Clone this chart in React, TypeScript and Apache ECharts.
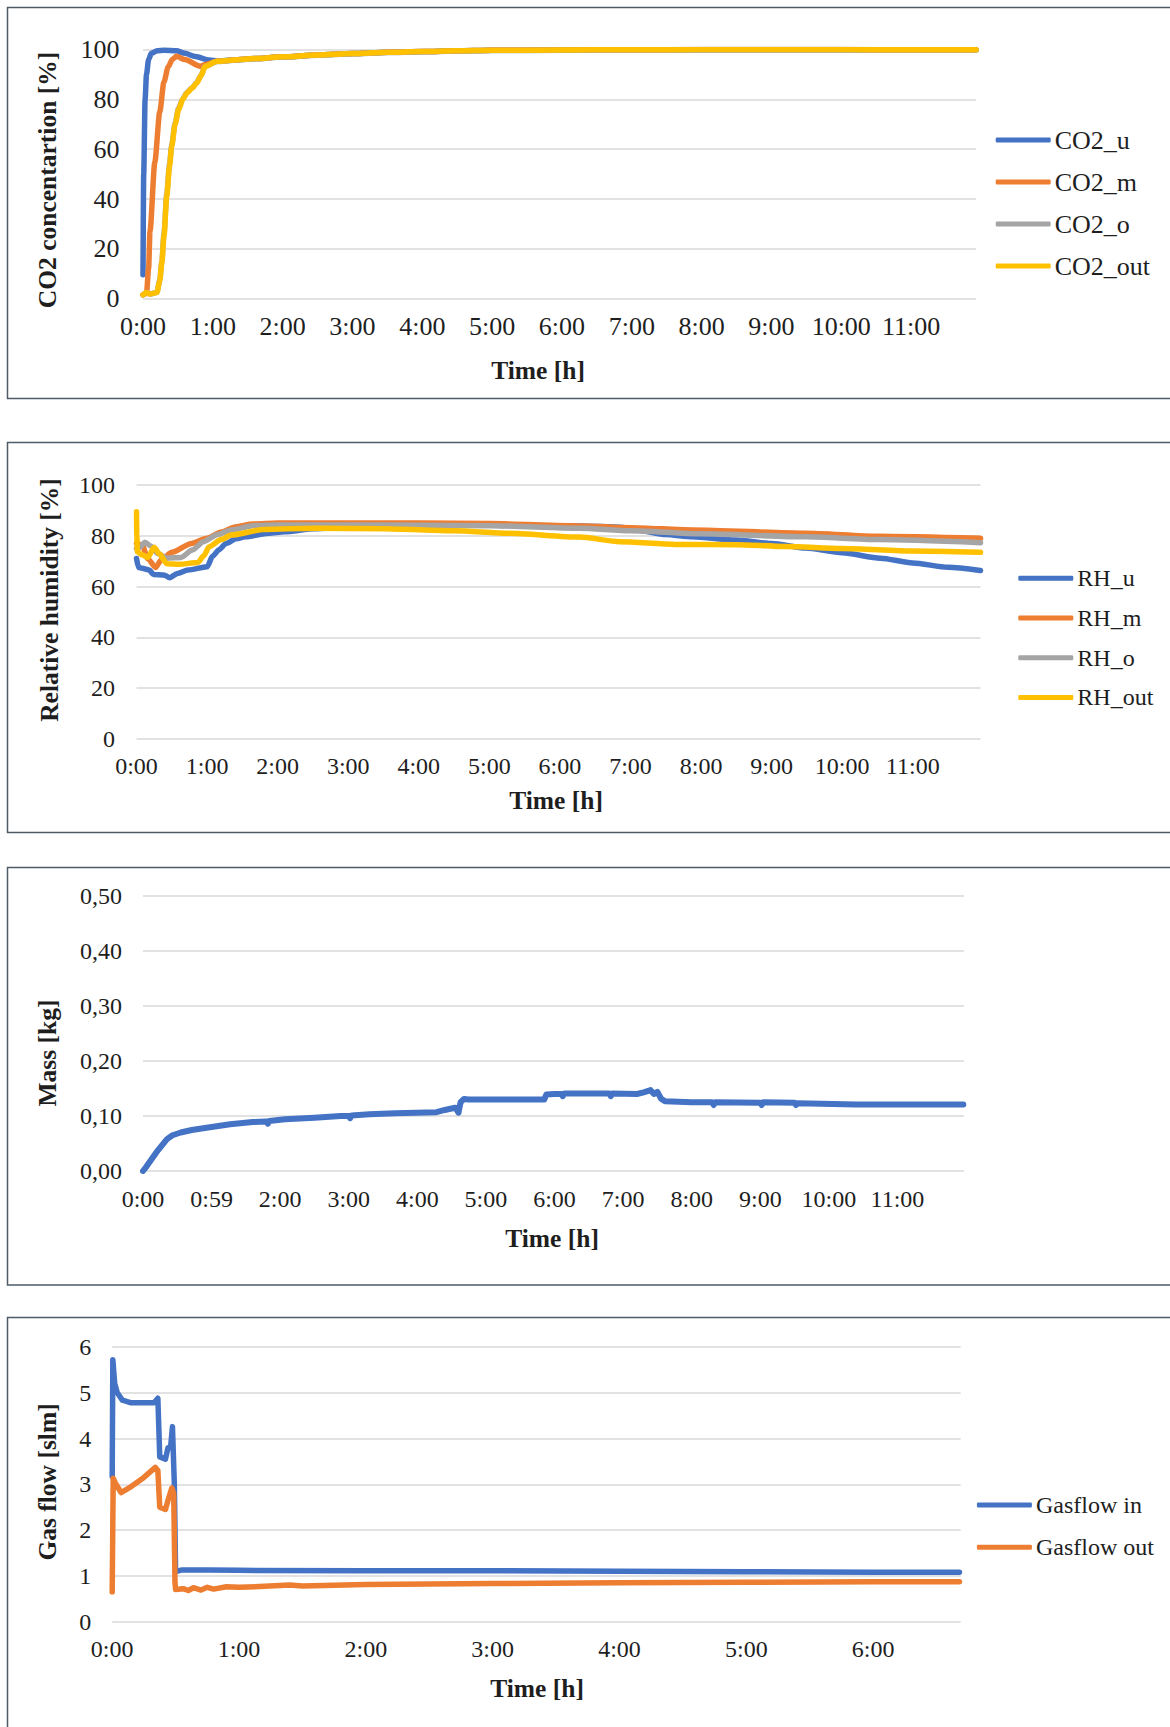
import { useEffect, useRef } from "react";
import * as echarts from "echarts";

// ---------- tick labels ----------
const HOUR_LABELS = ["0:00", "1:00", "2:00", "3:00", "4:00", "5:00", "6:00", "7:00", "8:00", "9:00", "10:00", "11:00"];
const MASS_HOUR_LABELS = ["0:00", "0:59", "2:00", "3:00", "4:00", "5:00", "6:00", "7:00", "8:00", "9:00", "10:00", "11:00"];
const GAS_HOUR_LABELS = ["0:00", "1:00", "2:00", "3:00", "4:00", "5:00", "6:00"];

// ---------- panel 1: CO2 concentration [%] (time in hours) ----------
const CO2_U = [
  [0, 9.6], [0.01, 50], [0.03, 80], [0.05, 90], [0.08, 96], [0.12, 98.5], [0.2, 99.5], [0.3, 99.7],
  [0.48, 99.5], [0.6, 98.5], [0.75, 97.2], [0.95, 95.8], [1.06, 95.4], [1.3, 95.9], [1.6, 96.4], [2, 97.1],
  [2.5, 97.8], [3, 98.4], [3.5, 98.9], [4, 99.2], [4.5, 99.5], [5, 99.7], [6, 99.85], [7, 99.95], [8, 100],
  [9, 100], [10, 100], [11, 99.95], [11.93, 99.95],
];
const CO2_M = [
  [0, 1.5], [0.05, 2], [0.08, 12], [0.1, 27], [0.17, 55], [0.24, 75], [0.3, 87], [0.36, 93], [0.42, 96],
  [0.48, 97.3], [0.6, 96], [0.82, 93.3], [0.9, 94], [1.06, 95.3], [1.3, 95.8], [1.6, 96.4], [2, 97.1],
  [2.5, 97.8], [3, 98.4], [3.5, 98.9], [4, 99.2], [4.5, 99.5], [5, 99.7], [6, 99.85], [7, 99.95], [8, 100],
  [9, 100], [10, 100], [11, 99.9], [11.93, 99.9],
];
const CO2_O = [
  [0, 1.5], [0.05, 2.4], [0.1, 1.8], [0.2, 2.6], [0.24, 7.5], [0.27, 15], [0.3, 26], [0.34, 42], [0.38, 54],
  [0.41, 61.5], [0.46, 70.5], [0.51, 76.5], [0.57, 80.3], [0.63, 82.8], [0.7, 84.6], [0.77, 86.8], [0.83, 89.6],
  [0.89, 93.3], [1.06, 95.2], [1.3, 95.7], [1.6, 96.3], [2, 97], [2.5, 97.7], [3, 98.3], [3.5, 98.8], [4, 99.1],
  [4.5, 99.4], [5, 99.6], [6, 99.7], [7, 99.75], [8, 99.8], [9, 99.8], [10, 99.85], [11, 99.85], [11.93, 99.85],
];
const CO2_OUT = [
  [0, 1.5], [0.05, 2.5], [0.1, 1.8], [0.2, 2.5], [0.24, 7], [0.27, 14.5], [0.3, 25], [0.34, 41], [0.38, 53],
  [0.41, 61], [0.46, 70], [0.51, 76], [0.57, 80], [0.63, 82.6], [0.7, 84.5], [0.77, 86.6], [0.83, 89.5],
  [0.89, 93.3], [1.06, 95.3], [1.3, 95.8], [1.6, 96.4], [2, 97.1], [2.5, 97.8], [3, 98.4], [3.5, 98.9], [4, 99.2],
  [4.5, 99.5], [5, 99.7], [6, 99.85], [7, 99.95], [8, 100], [9, 100], [10, 100], [11, 99.95], [11.93, 99.95],
];

// ---------- panel 2: relative humidity [%] ----------
const RH_U = [
  [0, 71.1], [0.03, 67.5], [0.08, 67.2], [0.18, 66.5], [0.24, 64.8], [0.4, 64.5], [0.47, 63.5], [0.58, 65.2],
  [0.73, 66.5], [1.0, 67.8], [1.08, 72], [1.17, 74.5], [1.27, 77], [1.41, 78.8], [1.54, 79.6], [1.87, 81],
  [2.1, 81.6], [2.52, 82.8], [3, 83.4], [4, 83.9], [4.65, 84.4], [5.5, 84], [6.3, 83.9], [6.85, 83.4],
  [7.08, 82.3], [7.5, 80.5], [7.88, 79.6], [8.5, 78.3], [9, 77], [9.48, 75.2], [10, 73.3], [10.54, 71.2],
  [11, 69.3], [11.5, 67.6], [11.96, 66.3],
];
const RH_M = [
  [0, 77], [0.08, 76.4], [0.16, 71], [0.27, 67.5], [0.35, 70.5], [0.5, 73.5], [0.78, 77], [1.0, 79],
  [1.2, 81.5], [1.4, 83.5], [1.65, 84.6], [2, 85], [3, 85], [4, 85], [5, 84.8], [6.28, 83.9], [7, 83.2],
  [7.88, 82.3], [9.48, 81], [10.5, 79.8], [11.96, 79],
];
const RH_O = [
  [0, 75], [0.05, 75.5], [0.12, 77.5], [0.2, 76], [0.3, 73], [0.43, 71.2], [0.63, 71.5], [0.79, 74.4],
  [0.95, 77.7], [1.15, 80.5], [1.34, 82.3], [1.65, 84], [2, 84.3], [3, 84.3], [4, 84.2], [5, 84], [6.28, 83],
  [7, 82], [8, 80.8], [9.48, 79.6], [10.5, 78.5], [11.96, 77.3],
];
const RH_OUT = [
  [0, 89.5], [0.005, 80], [0.012, 73.7], [0.08, 72.5], [0.16, 71.5], [0.25, 75.5], [0.32, 73], [0.43, 69],
  [0.6, 68.8], [0.87, 69.5], [0.95, 72], [1.03, 75.7], [1.2, 78.5], [1.34, 80.3], [1.81, 82.5], [2.52, 83],
  [3.5, 82.8], [4.5, 82], [5.27, 81], [6.28, 79.5], [6.85, 77.7], [7.64, 76.6], [8.5, 76.5], [9.2, 75.8],
  [10, 75], [11, 74], [11.96, 73.5],
];

// ---------- panel 3: mass [kg] ----------
const MASS = [
  [0, 0], [0.05, 0.008], [0.22, 0.038], [0.35, 0.058], [0.43, 0.065], [0.55, 0.07], [0.71, 0.0745],
  [1.0, 0.08], [1.27, 0.085], [1.6, 0.089], [1.8, 0.09], [1.82, 0.086], [1.84, 0.091], [2.07, 0.094],
  [2.5, 0.097], [2.88, 0.1], [3.0, 0.1], [3.02, 0.096], [3.04, 0.101], [3.3, 0.103], [3.68, 0.105],
  [4.28, 0.107], [4.4, 0.111], [4.55, 0.115], [4.58, 0.11], [4.6, 0.106], [4.63, 0.125], [4.68, 0.131],
  [4.75, 0.13], [5.85, 0.13], [5.88, 0.139], [6.0, 0.14], [6.1, 0.14], [6.12, 0.136], [6.14, 0.141],
  [6.8, 0.141], [6.82, 0.136], [6.84, 0.141], [7.2, 0.14], [7.3, 0.143], [7.4, 0.147], [7.45, 0.14],
  [7.5, 0.144], [7.55, 0.132], [7.61, 0.127], [8, 0.125], [8.3, 0.125], [8.32, 0.12], [8.34, 0.125],
  [9, 0.124], [9.02, 0.12], [9.04, 0.125], [9.5, 0.124], [9.52, 0.12], [9.54, 0.123], [10.4, 0.121],
  [11.96, 0.121],
];

// ---------- panel 4: gas flow [slm] ----------
const GAS_IN = [
  [0, 3.17], [0.005, 5.72], [0.02, 5.2], [0.04, 5.0], [0.08, 4.84], [0.15, 4.78], [0.33, 4.78], [0.36, 4.88],
  [0.375, 3.6], [0.42, 3.55], [0.44, 3.8], [0.46, 3.8], [0.475, 4.26], [0.49, 3.0], [0.5, 1.09], [0.55, 1.13],
  [0.75, 1.13], [1.0, 1.12], [2, 1.11], [3, 1.11], [4, 1.1], [5, 1.09], [6, 1.08], [6.68, 1.08],
];
const GAS_OUT = [
  [0, 0.65], [0.008, 3.13], [0.03, 3.0], [0.07, 2.82], [0.15, 2.95], [0.25, 3.15], [0.34, 3.37], [0.36, 3.3],
  [0.375, 2.5], [0.42, 2.45], [0.445, 2.7], [0.47, 2.92], [0.485, 2.8], [0.495, 0.85], [0.5, 0.7], [0.56, 0.72],
  [0.6, 0.68], [0.64, 0.74], [0.7, 0.69], [0.75, 0.75], [0.8, 0.71], [0.9, 0.76], [1.0, 0.75], [1.2, 0.77],
  [1.4, 0.8], [1.5, 0.78], [2, 0.81], [2.5, 0.82], [3, 0.83], [4, 0.85], [5, 0.86], [6, 0.87], [6.68, 0.87],
];

const BLUE = "#4472c4";
const ORANGE = "#ed7d31";
const GREY = "#a5a5a5";
const YELLOW = "#ffc000";
const TEXT = "#1e1e1e";
const FONT = '"Liberation Serif", "Times New Roman", serif';

function hourFormatter(labels: string[]) {
  return (v: number) => {
    const r = Math.round(v);
    if (Math.abs(v - r) > 1e-6) return "";
    return labels[r] ?? "";
  };
}

function xAxis(gridIndex: number, max: number, labels: string[], fontSize: number, margin: number) {
  return {
    type: "value",
    gridIndex,
    min: 0,
    max,
    interval: 1,
    axisLine: { show: false },
    axisTick: { show: false },
    splitLine: { show: false },
    axisLabel: {
      formatter: hourFormatter(labels),
      fontSize,
      fontFamily: FONT,
      color: TEXT,
      margin,
      showMaxLabel: false,
    },
  };
}

function yAxis(gridIndex: number, max: number, interval: number, fontSize: number, margin: number, fmt?: (v: number) => string) {
  return {
    type: "value",
    gridIndex,
    min: 0,
    max,
    interval,
    axisLine: { show: false },
    axisTick: { show: false },
    splitLine: { lineStyle: { color: "#d9d9d9", width: 1.5 } },
    axisLabel: {
      fontSize,
      fontFamily: FONT,
      color: TEXT,
      margin,
      formatter: fmt,
    },
  };
}

function line(name: string, data: number[][], color: string, axis: number, smooth: boolean, width: number) {
  return {
    type: "line",
    name,
    data,
    xAxisIndex: axis,
    yAxisIndex: axis,
    showSymbol: false,
    symbol: "none",
    smooth: smooth ? 0.25 : false,
    smoothMonotone: "x",
    lineStyle: { color, width, cap: "round", join: "round" },
    itemStyle: { color },
  };
}

function legend(names: string[], left: number, top: number, gap: number, fontSize: number) {
  return {
    data: names,
    orient: "vertical",
    left,
    top,
    padding: 0,
    itemGap: gap,
    icon: "roundRect",
    itemWidth: 55,
    itemHeight: 5,
    selectedMode: false,
    textStyle: { fontSize, fontFamily: FONT, color: TEXT, padding: [0, 0, 0, -1] },
  };
}

function title(text: string, x: number, y: number, vertical: boolean) {
  return {
    type: "text",
    x,
    y,
    rotation: vertical ? Math.PI / 2 : 0,
    silent: true,
    style: {
      text,
      fill: TEXT,
      font: `bold 25.5px ${FONT}`,
      align: "center",
      verticalAlign: "middle",
    },
  };
}

function border(y: number, h: number) {
  return {
    type: "rect",
    silent: true,
    shape: { x: 7.5, y, width: 1250, height: h },
    style: { fill: "none", stroke: "#4f5b66", lineWidth: 1.5 },
    z: 100,
  };
}

export default function App() {
  const ref = useRef<HTMLDivElement>(null);

  useEffect(() => {
    if (!ref.current) return;
    const chart = echarts.init(ref.current, null, { renderer: "svg" });
    const option = {
      animation: false,
      backgroundColor: "#ffffff",
      grid: [
        { left: 143, top: 49.6, width: 833, height: 249 },
        { left: 136.5, top: 485, width: 844, height: 254 },
        { left: 143, top: 896, width: 821, height: 275 },
        { left: 112.2, top: 1347, width: 848.5, height: 274.6 },
      ],
      xAxis: [
        xAxis(0, 11.93, HOUR_LABELS, 26, 15),
        xAxis(1, 11.96, HOUR_LABELS, 24, 15),
        xAxis(2, 11.97, MASS_HOUR_LABELS, 24, 16),
        xAxis(3, 6.69, GAS_HOUR_LABELS, 24, 15),
      ],
      yAxis: [
        yAxis(0, 100, 20, 26, 23.5),
        yAxis(1, 100, 20, 24, 21.5),
        yAxis(2, 0.5, 0.1, 24, 21, (v: number) => v.toFixed(2).replace(".", ",")),
        yAxis(3, 6, 1, 24, 21),
      ],
      legend: [
        legend(["CO2_u", "CO2_m", "CO2_o", "CO2_out"], 995.7, 127, 16, 26),
        legend(["RH_u", "RH_m", "RH_o", "RH_out"], 1018.3, 566.3, 15.7, 24),
        legend(["Gasflow in", "Gasflow out"], 976.9, 1493, 18.3, 24),
      ],
      series: [
        line("CO2_u", CO2_U, BLUE, 0, true, 5.5),
        line("CO2_m", CO2_M, ORANGE, 0, true, 5.5),
        line("CO2_o", CO2_O, GREY, 0, true, 5.5),
        line("CO2_out", CO2_OUT, YELLOW, 0, true, 5.5),
        line("RH_u", RH_U, BLUE, 1, true, 5.5),
        line("RH_m", RH_M, ORANGE, 1, true, 5.5),
        line("RH_o", RH_O, GREY, 1, true, 5.5),
        line("RH_out", RH_OUT, YELLOW, 1, true, 5.5),
        line("Mass", MASS, BLUE, 2, false, 6),
        line("Gasflow in", GAS_IN, BLUE, 3, false, 5.5),
        line("Gasflow out", GAS_OUT, ORANGE, 3, false, 5.5),
      ],
      graphic: [
        border(7.5, 391),
        border(442.5, 390),
        border(867.5, 417.5),
        border(1317.5, 500),
        title("CO2 concentartion [%]", 47.9, 180, true),
        title("Time [h]", 538, 370, false),
        title("Relative humidity [%]", 49.8, 600, true),
        title("Time [h]", 556, 800, false),
        title("Mass [kg]", 47.9, 1053, true),
        title("Time [h]", 552, 1238, false),
        title("Gas flow [slm]", 47.9, 1482, true),
        title("Time [h]", 537, 1688, false),
      ],
    };
    chart.setOption(option as any);
    return () => chart.dispose();
  }, []);

  return (
    <div
      ref={ref}
      style={{ position: "absolute", left: 0, top: 0, width: 1170, height: 1727, background: "#fff" }}
    />
  );
}
